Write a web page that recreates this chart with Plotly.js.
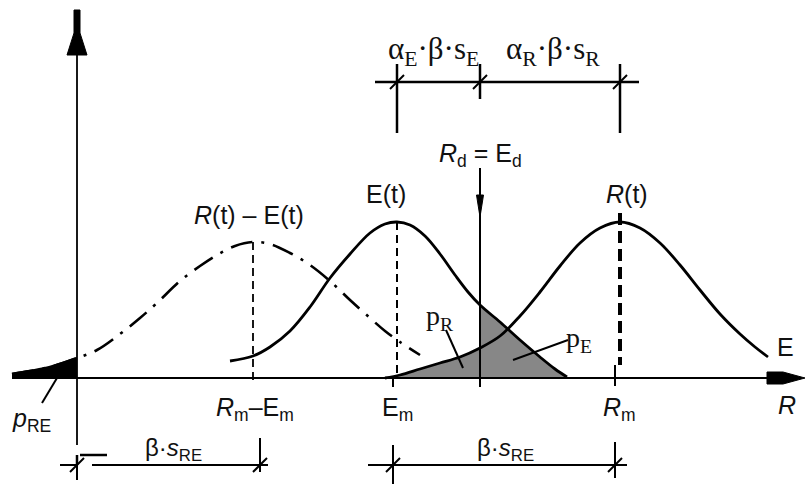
<!DOCTYPE html>
<html><head><meta charset="utf-8">
<script src="https://cdn.plot.ly/plotly-3.0.1.min.js"></script>
<style>html,body{margin:0;padding:0;background:#fff}#chart{width:806px;height:484px}</style>
</head><body><div id="chart"></div>
<script>
// Curve samples (x: position along the R/E axis, y: density height)
const diffX = [-65, -47, -27, 0, 20, 43, 63, 81, 103, 123, 140, 158, 176, 193, 213, 233, 253, 273, 293, 308, 323, 343];
const diffY = [4, 7, 11, 20, 28, 44, 60, 76, 97, 112, 123, 132, 136, 134, 125, 113, 97, 78, 60, 47, 36, 23];
const loadX = [153, 176, 193, 213, 233, 253, 273, 293, 308, 320, 333, 348, 363, 378, 391, 403, 423, 443, 463, 478, 490];
const loadY = [17, 22, 31, 47, 71, 100, 124, 145, 154, 156, 153, 142, 124, 103, 86, 73, 56, 38, 21, 9, 1];
const resX = [308, 323, 343, 363, 383, 403, 423, 443, 463, 483, 503, 523, 543, 563, 583, 603, 623, 643, 663, 678, 691];
const resY = [0, 3, 9, 15, 21, 30, 42, 62, 86, 112, 135, 150, 156, 150, 135, 113, 88, 64, 44, 31, 21];
const meanDiff = 176, meanLoad = 320, meanRes = 543;
const peakDiff = 136, peakLoad = 156, peakRes = 156;
const designValue = 403; // R_d = E_d

function pick(xs, ys, test) {
  const ox = [], oy = [];
  xs.forEach((x, i) => { if (test(x)) { ox.push(x); oy.push(ys[i]); } });
  return [ox, oy];
}
const [fRx, fRy] = pick(resX, resY, x => x <= designValue);
const [fEx, fEy] = pick(loadX, loadY, x => x >= designValue);
const [fDx, fDy] = pick(diffX, diffY, x => x <= 0);

const traces = [
  {x: fDx, y: fDy, mode: 'lines', line: {color: '#000', width: 2.5, shape: 'spline'}, fill: 'tozeroy', fillcolor: '#000'},
  {x: fRx, y: fRy, mode: 'lines', line: {width: 0, shape: 'spline'}, fill: 'tozeroy', fillcolor: '#878787'},
  {x: fEx, y: fEy, mode: 'lines', line: {width: 0, shape: 'spline'}, fill: 'tozeroy', fillcolor: '#878787'},
  {x: diffX, y: diffY, mode: 'lines', line: {color: '#000', width: 2.6, shape: 'spline', dash: '22px,9px,3px,9px'}},
  {x: loadX, y: loadY, mode: 'lines', line: {color: '#000', width: 2.8, shape: 'spline'}},
  {x: resX, y: resY, mode: 'lines', line: {color: '#000', width: 2.8, shape: 'spline'}}
];

function ln(x0, y0, x1, y1, w, dash) {
  return {type: 'line', xref: 'x', yref: 'y', x0, y0, x1, y1, layer: 'above',
          line: {color: '#000', width: w || 2, dash: dash || 'solid'}};
}
function slash(x, y) { return ln(x - 7, y - 7, x + 7, y + 7, 2); }
function poly(p) {
  return {type: 'path', xref: 'x', yref: 'y', path: p, fillcolor: '#000', line: {color: '#000', width: 1}, layer: 'above'};
}

const topDim = 296, botDim = -87;
const shapes = [
  // axes
  ln(-65, 0, 715, 0, 2),
  poly('M 690 -6 L 706 -6 L 728 0 L 706 6 L 690 6 Z'),
  ln(0, -67, 0, 345, 1.8),
  poly('M -3 368 L 3 368 L 3 345 L 10 323 L -10 323 L -3 345 Z'),
  // mean lines
  ln(meanDiff, peakDiff, meanDiff, -6, 1.8, '8px,5px'),
  ln(meanLoad, peakLoad, meanLoad, 5, 2, '8px,5px'),
  ln(meanRes, peakRes + 9, meanRes, 13, 4, '12px,6px'),
  ln(meanLoad - 4, 0, meanLoad - 4, -9, 2),
  ln(meanRes - 5, 13, meanRes - 5, -8, 2),
  // design value line + arrow
  ln(designValue, 210, designValue, -9, 2),
  poly('M 399.5 183 L 403 161 L 406.5 183 Z'),
  // top dimension chain
  ln(298, topDim, 562, topDim, 2.5),
  ln(meanLoad, 314, meanLoad, 245, 2.5),
  ln(designValue, 314, designValue, 279, 2.5),
  ln(meanRes, 314, meanRes, 245, 2.5),
  slash(meanLoad, topDim), slash(designValue, topDim), slash(meanRes, topDim),
  // bottom left dimension
  ln(-17, botDim, 0, botDim, 2),
  ln(0, botDim, 0, -77, 2.5),
  ln(3, -77, 30, -77, 2.5),
  ln(15, botDim, 191, botDim, 2),
  ln(0, -77, 0, -102, 2),
  ln(183, -60, 183, -94, 2),
  slash(0, botDim), slash(183, botDim),
  // bottom right dimension
  ln(291, botDim, 550, botDim, 2),
  ln(316, -67, 316, -106, 2),
  ln(538, -64, 538, -100, 2),
  slash(316, botDim), slash(538, botDim),
  // leader lines
  ln(-35, -25, -20, 0, 2),
  ln(369, 48, 386, 10, 2),
  ln(491, 38, 436, 18, 2)
];

const SANS = 'Liberation Sans, Arial, sans-serif';
const SERIF = 'Liberation Serif, Times New Roman, serif';
function lab(text, x, y, size, fam) {
  return {text, x, y, xref: 'x', yref: 'y', showarrow: false, xanchor: 'center', yanchor: 'middle',
          font: {family: fam || SANS, size: size || 25, color: '#111'}};
}
const annotations = [
  lab('α<sub>E</sub>·β·s<sub>E</sub>', 356, 327, 31, SERIF),
  lab('α<sub>R</sub>·β·s<sub>R</sub>', 476, 327, 31, SERIF),
  lab('<i>R</i><sub>d</sub> = E<sub>d</sub>', designValue, 223),
  lab('E(t)', 309, 184),
  lab('<i>R</i>(t)', 550, 184),
  lab('<i>R</i>(t) – E(t)', 172, 163),
  lab('<i>R</i><sub>m</sub>–E<sub>m</sub>', 178, -31),
  lab('E<sub>m</sub>', 320, -31),
  lab('<i>R</i><sub>m</sub>', 542, -31),
  lab('<i>R</i>', 710, -27),
  lab('E', 708, 31),
  lab('<i>p</i><sub>RE</sub>', -46, -42),
  lab('β·<i>s</i><sub>RE</sub>', 96, -71, 24),
  lab('β·<i>s</i><sub>RE</sub>', 428, -71, 24),
  lab('p<sub>R</sub>', 363, 61, 28, SERIF),
  lab('p<sub>E</sub>', 502, 39, 28, SERIF)
];

const layout = {
  width: 806, height: 484,
  margin: {l: 0, r: 0, t: 0, b: 0},
  paper_bgcolor: '#fff', plot_bgcolor: '#fff',
  showlegend: false,
  xaxis: {range: [-77, 729], visible: false, fixedrange: true},
  yaxis: {range: [-106, 378], visible: false, fixedrange: true},
  shapes, annotations
};
Plotly.newPlot('chart', traces, layout, {staticPlot: true, displayModeBar: false});
</script></body></html>
